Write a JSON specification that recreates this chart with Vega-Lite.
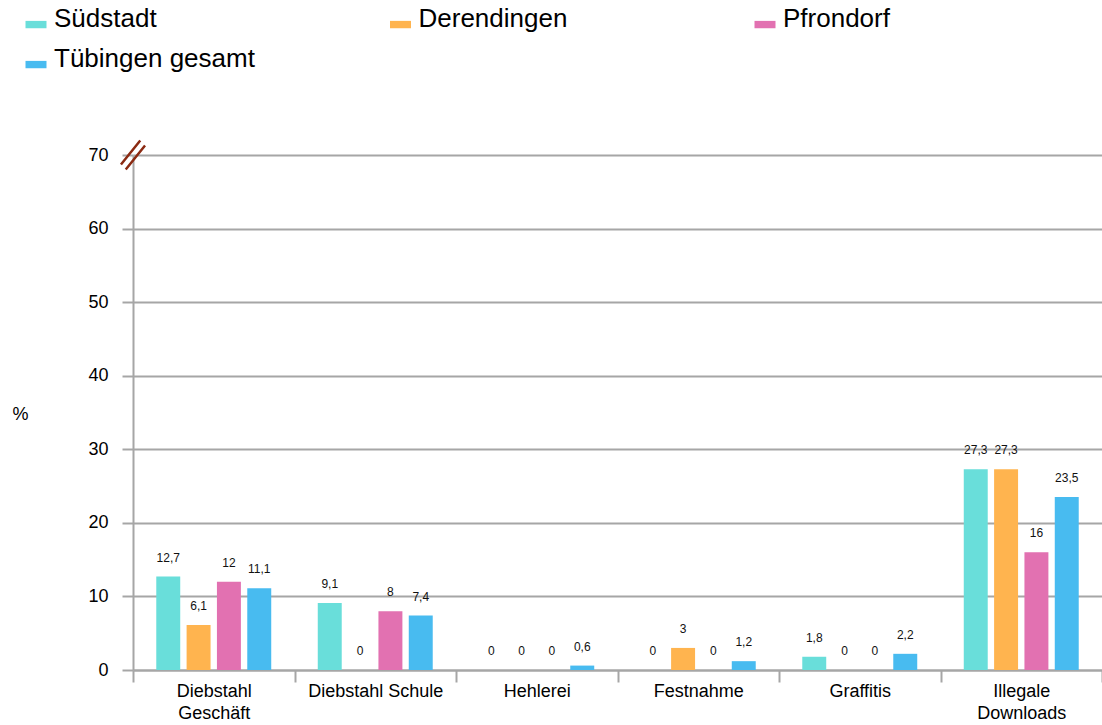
{
  "$schema": "https://vega.github.io/schema/vega-lite/v6.json",
  "autosize": {"type": "none"},
  "width": 969,
  "height": 515,
  "padding": {"left": 133, "top": 155, "right": 0, "bottom": 55},
  "background": "white",
  "config": {
    "font": "Liberation Sans",
    "view": {"stroke": null},
    "locale": {"number": {"decimal": ",", "thousands": ".", "grouping": [3], "currency": ["", " €"]}},
    "legend": {
      "orient": "none",
      "direction": "horizontal",
      "legendX": -110,
      "legendY": -149,
      "columns": 3,
      "gridAlign": "all",
      "columnPadding": 132.5,
      "rowPadding": 14,
      "labelFontSize": 26,
      "labelColor": "#000",
      "labelFont": "Liberation Sans",
      "labelOffset": 5,
      "labelLimit": 400,
      "symbolType": "M-1,0.18H1V0.88H-1Z",
      "symbolSize": 441,
      "symbolStrokeWidth": 0,
      "title": null
    }
  },
  "data": {
    "values": [
      {"kat": "Diebstahl Geschäft", "ort": "Südstadt", "wert": 12.7},
      {"kat": "Diebstahl Geschäft", "ort": "Derendingen", "wert": 6.1},
      {"kat": "Diebstahl Geschäft", "ort": "Pfrondorf", "wert": 12},
      {"kat": "Diebstahl Geschäft", "ort": "Tübingen gesamt", "wert": 11.1},
      {"kat": "Diebstahl Schule", "ort": "Südstadt", "wert": 9.1},
      {"kat": "Diebstahl Schule", "ort": "Derendingen", "wert": 0},
      {"kat": "Diebstahl Schule", "ort": "Pfrondorf", "wert": 8},
      {"kat": "Diebstahl Schule", "ort": "Tübingen gesamt", "wert": 7.4},
      {"kat": "Hehlerei", "ort": "Südstadt", "wert": 0},
      {"kat": "Hehlerei", "ort": "Derendingen", "wert": 0},
      {"kat": "Hehlerei", "ort": "Pfrondorf", "wert": 0},
      {"kat": "Hehlerei", "ort": "Tübingen gesamt", "wert": 0.6},
      {"kat": "Festnahme", "ort": "Südstadt", "wert": 0},
      {"kat": "Festnahme", "ort": "Derendingen", "wert": 3},
      {"kat": "Festnahme", "ort": "Pfrondorf", "wert": 0},
      {"kat": "Festnahme", "ort": "Tübingen gesamt", "wert": 1.2},
      {"kat": "Graffitis", "ort": "Südstadt", "wert": 1.8},
      {"kat": "Graffitis", "ort": "Derendingen", "wert": 0},
      {"kat": "Graffitis", "ort": "Pfrondorf", "wert": 0},
      {"kat": "Graffitis", "ort": "Tübingen gesamt", "wert": 2.2},
      {"kat": "Illegale Downloads", "ort": "Südstadt", "wert": 27.3},
      {"kat": "Illegale Downloads", "ort": "Derendingen", "wert": 27.3},
      {"kat": "Illegale Downloads", "ort": "Pfrondorf", "wert": 16},
      {"kat": "Illegale Downloads", "ort": "Tübingen gesamt", "wert": 23.5}
    ]
  },
  "encoding": {
    "x": {
      "field": "kat",
      "type": "nominal",
      "sort": null,
      "scale": {"paddingInner": 0, "paddingOuter": 0},
      "axis": {
        "title": null,
        "labelAngle": 0,
        "labelFontSize": 18,
        "labelColor": "#000",
        "labelPadding": 0,
        "labelLineHeight": 22,
        "labelBaseline": "top",
        "labelExpr": "datum.label == 'Diebstahl Geschäft' ? ['Diebstahl', 'Geschäft'] : datum.label == 'Illegale Downloads' ? ['Illegale', 'Downloads'] : datum.label",
        "tickBand": "extent",
        "tickSize": 12,
        "tickColor": "#a6a6a6",
        "tickWidth": 2,
        "domainColor": "#a6a6a6",
        "domainWidth": 2,
        "grid": false
      }
    },
    "xOffset": {
      "field": "ort",
      "type": "nominal",
      "sort": ["Südstadt", "Derendingen", "Pfrondorf", "Tübingen gesamt"],
      "scale": {"paddingInner": 0.21, "paddingOuter": 0.767}
    },
    "y": {
      "field": "wert",
      "type": "quantitative",
      "scale": {"domain": [0, 70], "nice": false},
      "axis": {
        "title": "%",
        "titleAngle": 0,
        "titleFontSize": 18,
        "titleFontWeight": "normal",
        "titleColor": "#000",
        "titleX": -113,
        "titleY": 268,
        "titleAlign": "center",
        "values": [0, 10, 20, 30, 40, 50, 60, 70],
        "labelFontSize": 18,
        "labelColor": "#000",
        "labelPadding": 14,
        "tickSize": 11,
        "tickColor": "#a6a6a6",
        "tickWidth": 2,
        "domainColor": "#a6a6a6",
        "domainWidth": 2,
        "gridColor": "#a6a6a6",
        "gridWidth": 2
      }
    }
  },
  "layer": [
    {
      "mark": {"type": "bar"},
      "encoding": {
        "color": {
          "field": "ort",
          "type": "nominal",
          "scale": {
            "domain": ["Südstadt", "Derendingen", "Pfrondorf", "Tübingen gesamt"],
            "range": ["#69DEDA", "#FFB44F", "#E271B1", "#48BBF0"]
          }
        }
      }
    },
    {
      "mark": {"type": "text", "fontSize": 12, "color": "#111", "baseline": "middle", "dy": -19},
      "encoding": {
        "text": {"field": "wert", "type": "quantitative", "format": ".1~f"}
      }
    },
    {
      "data": {"values": [{"bruch": 70}]},
      "mark": {
        "type": "point",
        "shape": "M-0.83,0.65L0.5,-1M-0.5,1L0.83,-0.65",
        "filled": false,
        "stroke": "#8B2A12",
        "strokeWidth": 2.5,
        "size": 841,
        "opacity": 1
      },
      "encoding": {
        "x": {"value": 0},
        "xOffset": null,
        "y": {"field": "bruch", "type": "quantitative"}
      }
    }
  ]
}
